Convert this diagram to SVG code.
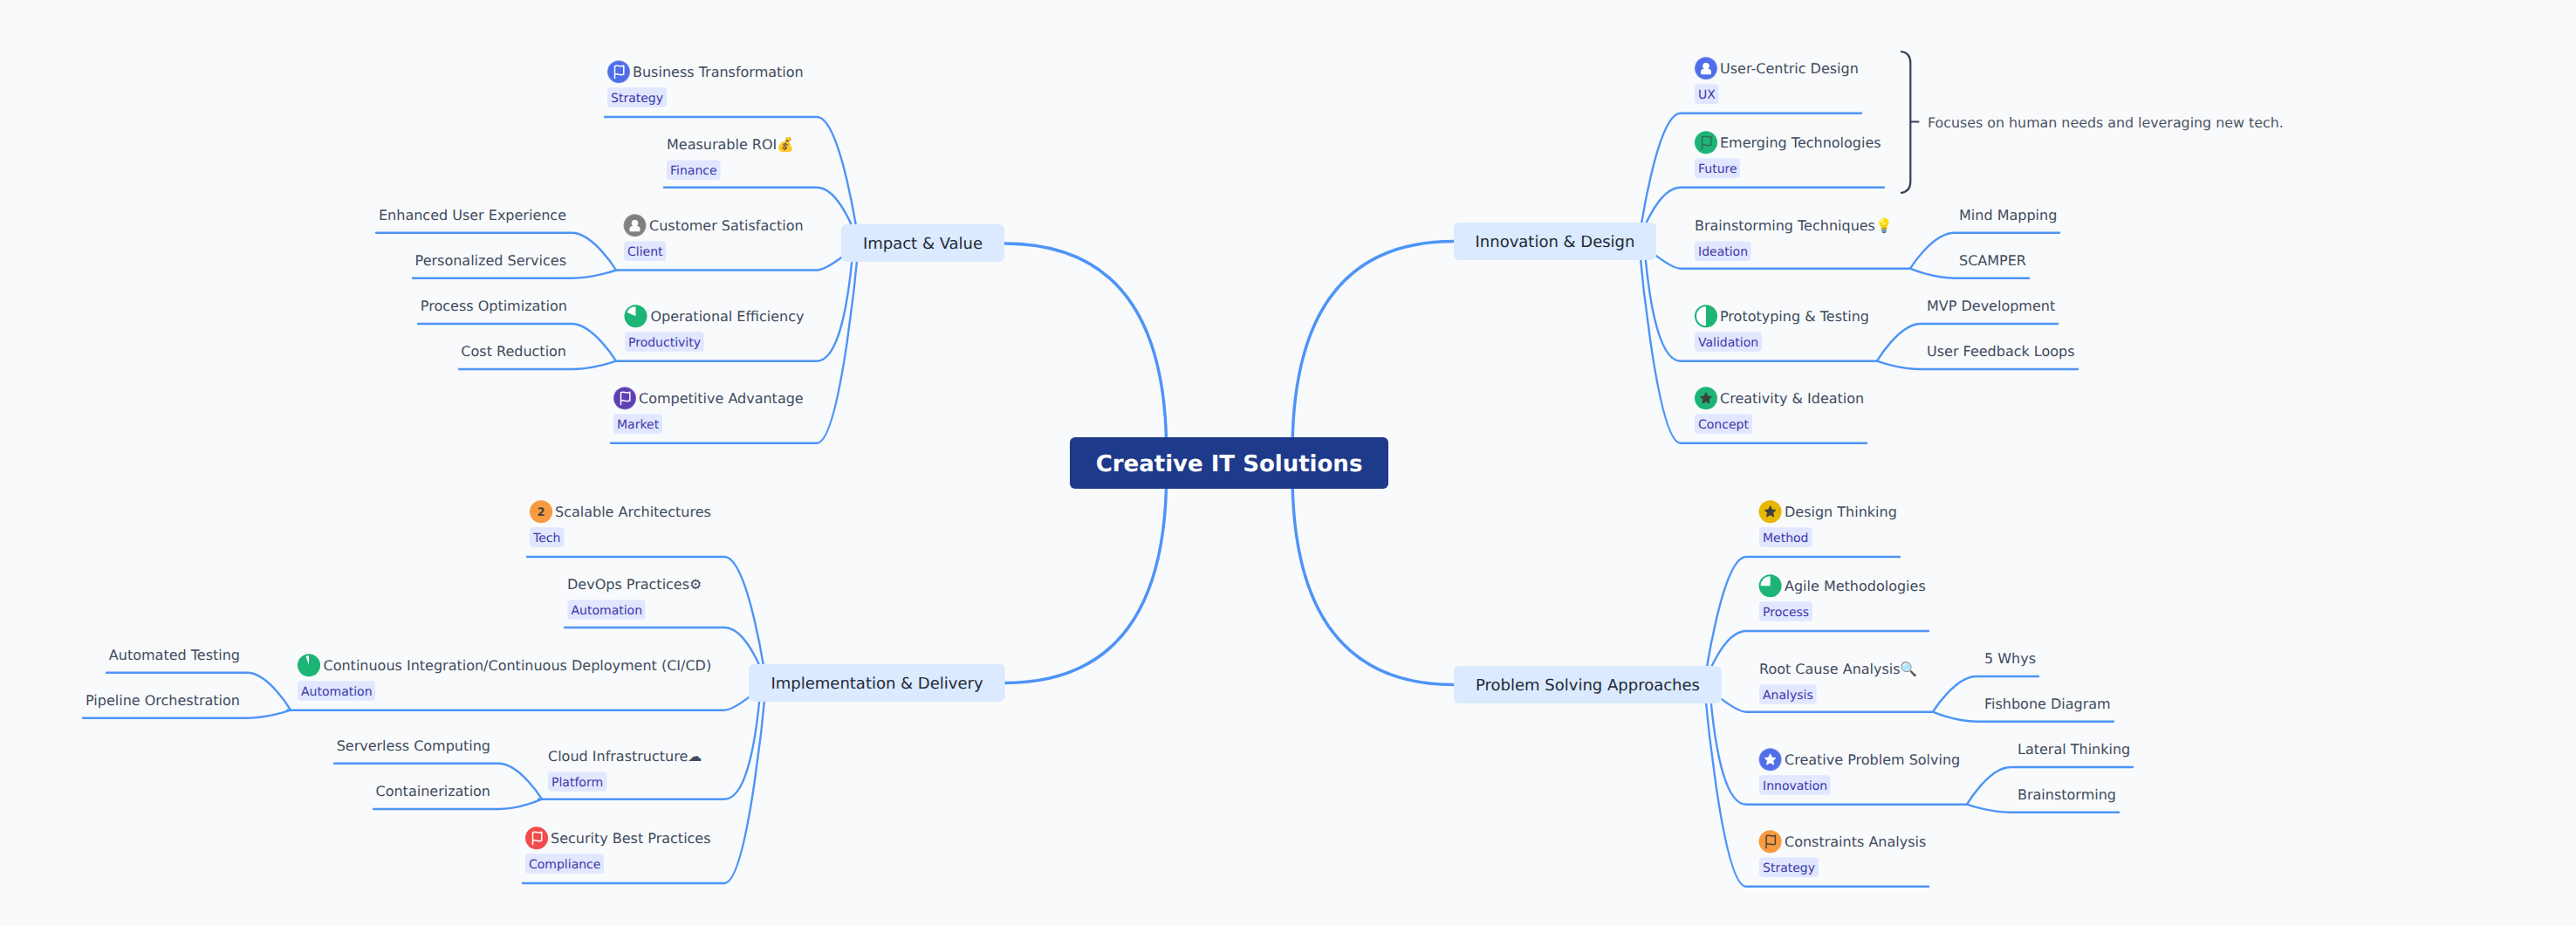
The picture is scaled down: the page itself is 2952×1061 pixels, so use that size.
<svg xmlns="http://www.w3.org/2000/svg" width="2952" height="1061" viewBox="0 0 2952 1061">
<style>
text{font-family:"DejaVu Sans","Noto Color Emoji",sans-serif;text-rendering:geometricPrecision}
.t{font-size:16px;fill:#404b5d}
.tag{font-size:14px;fill:#4038a8}
.tb{fill:#e0e7ff}
.b{font-size:18px;fill:#1f2937;text-anchor:middle}
.br{fill:#dbeafe}
.e{text-anchor:end}
.s{fill:none;stroke:#4d94f7;stroke-width:2.4;stroke-linecap:round}
.m{fill:none;stroke:#4d94f7;stroke-width:3.4}
.w{color:#fff;stroke:#fff}
.d{color:#3f3f3f;stroke:#3f3f3f}
.dg{color:#2d6e58;stroke:#2d6e58}
.do{color:#4a4238;stroke:#4a4238}
</style>
<defs>
<path id="flag" d="M-4.5 8V-6.5C-2-8.5 1.5-5 5.8-7V2.8C1.5 4.8-2 1.2-4.5 3" fill="none" stroke-width="1.5" stroke-linejoin="round"/>
<path id="star" d="M0-6.5L1.9-2.3 6.4-1.8 3.1 1.3 4 5.8 0 3.5-4 5.8-3.1 1.3-6.4-1.8-1.9-2.3Z" fill="currentColor" stroke="currentColor" stroke-width="1" stroke-linejoin="round"/>
<g id="person"><circle cx="0" cy="-2.6" r="3.4" fill="currentColor"/><path d="M-5.5 6.5V3.2C-5.5 1.6-3.5 1-2 1H2C3.5 1 5.5 1.6 5.5 3.2V6.5Z" fill="currentColor"/></g>
</defs>
<rect width="2952" height="1061" fill="#f9fafc"/>
<g id="connectors">
<path class="m" d="M1336.7 518Q1336.7 279 1151 279"/>
<path class="m" d="M1481 518Q1481 276.5 1666 276.5"/>
<path class="m" d="M1336.7 543Q1336.7 782.5 1151 782.5"/>
<path class="m" d="M1481 543Q1481 784.5 1666 784.5"/>
<path class="s" d="M984 279C984 279 964 134 936 134H693"/>
<path class="s" d="M984 279C984 279 964 214.7 936 214.7H761"/>
<path class="s" d="M984 279C984 279 950 309.5 936 309.5H706"/>
<path class="s" d="M978 279C974 330 964 413.7 936 413.7H706"/>
<path class="s" d="M984 279C984 279 964 507.7 936 507.7H700"/>
<path class="s" d="M706 309.5C706 309.5 680 266.7 655 266.7H431"/>
<path class="s" d="M706 309.5C706 309.5 680 318.7 655 318.7H473"/>
<path class="s" d="M706 413.7C706 413.7 680 371 655 371H479"/>
<path class="s" d="M706 413.7C706 413.7 680 423 655 423H526"/>
<path class="s" d="M1878 276.5C1878 276.5 1898 129.7 1926 129.7H2133"/>
<path class="s" d="M1878 276.5C1878 276.5 1898 214.7 1926 214.7H2159"/>
<path class="s" d="M1878 276.5C1878 276.5 1912 307.7 1926 307.7H2189"/>
<path class="s" d="M1884 276.5C1888 328 1898 413.7 1926 413.7H2151"/>
<path class="s" d="M1878 276.5C1878 276.5 1898 507.7 1926 507.7H2139"/>
<path class="s" d="M2189 307.7C2189 307.7 2214 266.7 2240 266.7H2360"/>
<path class="s" d="M2189 307.7C2189 307.7 2214 318.7 2240 318.7H2325"/>
<path class="s" d="M2151 413.7C2151 413.7 2176 371 2201 371H2358"/>
<path class="s" d="M2151 413.7C2151 413.7 2176 423 2201 423H2381"/>
<path class="s" d="M878 782.5C878 782.5 858 638 830 638H604"/>
<path class="s" d="M878 782.5C878 782.5 858 719 830 719H647"/>
<path class="s" d="M878 782.5C878 782.5 844 813.7 830 813.7H329"/>
<path class="s" d="M872 782.5C868 834 858 915.7 830 915.7H617"/>
<path class="s" d="M878 782.5C878 782.5 858 1012 830 1012H599"/>
<path class="s" d="M333 813.7C333 813.7 308 770.7 283 770.7H122"/>
<path class="s" d="M333 813.7C333 813.7 308 822.7 283 822.7H95"/>
<path class="s" d="M621 915.7C621 915.7 596 874.7 571 874.7H383"/>
<path class="s" d="M621 915.7C621 915.7 596 927 571 927H428"/>
<path class="s" d="M1953 784.5C1953 784.5 1973 638 2001 638H2177"/>
<path class="s" d="M1953 784.5C1953 784.5 1973 723 2001 723H2210"/>
<path class="s" d="M1953 784.5C1953 784.5 1987 815.7 2001 815.7H2215"/>
<path class="s" d="M1959 784.5C1963 836 1973 921.7 2001 921.7H2254"/>
<path class="s" d="M1953 784.5C1953 784.5 1973 1015.7 2001 1015.7H2210"/>
<path class="s" d="M2215 815.7C2215 815.7 2240 775 2265 775H2336"/>
<path class="s" d="M2215 815.7C2215 815.7 2240 826.7 2265 826.7H2422"/>
<path class="s" d="M2254 921.7C2254 921.7 2279 879 2304 879H2444"/>
<path class="s" d="M2254 921.7C2254 921.7 2279 930.7 2304 930.7H2428"/>
</g>
<g id="root"><rect x="1226" y="501" width="365" height="59" rx="6" fill="#1e3a8a"/><text x="1408.5" y="540" font-size="26" font-weight="700" fill="#fff" text-anchor="middle">Creative IT Solutions</text></g>

<g id="impact"><rect class="br" x="964" y="257" width="187" height="43" rx="6"/><text class="b" x="1057.5" y="285">Impact &amp; Value</text></g>
<g id="business"><circle cx="709" cy="82.3" r="13" fill="#7189ee"/><circle cx="709" cy="82.3" r="12" fill="#4f6ee8"/><use href="#flag" x="709" y="82.3" class="w"/><text class="t" x="725" y="88.3">Business Transformation</text><rect class="tb" x="696" y="100.3" width="68" height="22.4" rx="4"/><text class="tag" x="700" y="116.5">Strategy</text></g>
<g id="roi"><text class="t" x="764" y="171.3">Measurable ROI💰</text><rect class="tb" x="764" y="183.5" width="61.5" height="22.4" rx="4"/><text class="tag" x="768" y="199.7">Finance</text></g>
<g id="customer"><circle cx="727.5" cy="258.3" r="13" fill="#999"/><circle cx="727.5" cy="258.3" r="12" fill="#808080"/><use href="#person" x="727.5" y="258.3" class="w"/><text class="t" x="744" y="264.3">Customer Satisfaction</text><rect class="tb" x="715" y="276.5" width="48" height="22.4" rx="4"/><text class="tag" x="719" y="292.7">Client</text></g>
<g id="operational"><circle cx="728.5" cy="362.3" r="13" fill="#1cb575"/><path d="M728.5 362.3L728.5 351.3A11 11 0 0 0 718.5 357.7Z" fill="#fff"/><text class="t" x="745.4" y="368.3">Operational Efficiency</text><rect class="tb" x="716" y="380.3" width="90.6" height="22.4" rx="4"/><text class="tag" x="720" y="396.5">Productivity</text></g>
<g id="competitive"><circle cx="716" cy="456.3" r="13" fill="#7a62c4"/><circle cx="716" cy="456.3" r="12" fill="#5c3fb3"/><use href="#flag" x="716" y="456.3" class="w"/><text class="t" x="732" y="462.3">Competitive Advantage</text><rect class="tb" x="703" y="474.5" width="56" height="22.4" rx="4"/><text class="tag" x="707" y="490.7">Market</text></g>
<g id="enhanced"><text class="t e" x="649" y="252.3">Enhanced User Experience</text></g>
<g id="personalized"><text class="t e" x="649" y="304.3">Personalized Services</text></g>
<g id="process-opt"><text class="t e" x="650" y="356.3">Process Optimization</text></g>
<g id="cost"><text class="t e" x="649" y="408.3">Cost Reduction</text></g>

<g id="innovation"><rect class="br" x="1666" y="255" width="232" height="43" rx="6"/><text class="b" x="1782" y="283">Innovation &amp; Design</text></g>
<g id="user-centric"><circle cx="1955" cy="78.3" r="13" fill="#7189ee"/><circle cx="1955" cy="78.3" r="12" fill="#4f6ee8"/><use href="#person" x="1955" y="78.3" class="w"/><text class="t" x="1971" y="84.3">User-Centric Design</text><rect class="tb" x="1942" y="96.5" width="27.5" height="22.4" rx="4"/><text class="tag" x="1946" y="112.7">UX</text></g>
<g id="emerging"><circle cx="1955" cy="163.3" r="13" fill="#1cb575"/><use href="#flag" x="1955" y="163.3" class="dg"/><text class="t" x="1971" y="169.3">Emerging Technologies</text><rect class="tb" x="1942" y="181.5" width="52" height="22.4" rx="4"/><text class="tag" x="1946" y="197.7">Future</text></g>
<g id="brainstorming-tech"><text class="t" x="1942" y="264.3">Brainstorming Techniques💡</text><rect class="tb" x="1942" y="276.5" width="64.5" height="22.4" rx="4"/><text class="tag" x="1946" y="292.7">Ideation</text></g>
<g id="prototyping"><circle cx="1955" cy="362.3" r="13" fill="#1cb575"/><path d="M1955 351.3A11 11 0 0 0 1955 373.3Z" fill="#fff"/><text class="t" x="1971" y="368.3">Prototyping &amp; Testing</text><rect class="tb" x="1942" y="380.3" width="77" height="22.4" rx="4"/><text class="tag" x="1946" y="396.5">Validation</text></g>
<g id="creativity"><circle cx="1955" cy="456.3" r="13" fill="#1cb575"/><use href="#star" x="1955" y="456.3" class="d"/><text class="t" x="1971" y="462.3">Creativity &amp; Ideation</text><rect class="tb" x="1942" y="474.5" width="66" height="22.4" rx="4"/><text class="tag" x="1946" y="490.7">Concept</text></g>
<g id="mind-mapping"><text class="t" x="2245" y="252.3">Mind Mapping</text></g>
<g id="scamper"><text class="t" x="2245" y="304.3">SCAMPER</text></g>
<g id="mvp"><text class="t" x="2208" y="356.3">MVP Development</text></g>
<g id="feedback"><text class="t" x="2208" y="408.3">User Feedback Loops</text></g>
<g id="summary"><path d="M2178 59Q2189.3 60 2189.3 72V208Q2189.3 220 2178 221M2189.3 139.5H2199.3" fill="none" stroke="#334155" stroke-width="2.2"/><text x="2209" y="146" style="font-size:15.85px;fill:#4b5563">Focuses on human needs and leveraging new tech.</text></g>

<g id="implementation"><rect class="br" x="858" y="761" width="293.6" height="43" rx="6"/><text class="b" x="1005" y="789">Implementation &amp; Delivery</text></g>
<g id="scalable"><circle cx="620" cy="586.3" r="13" fill="#f89a3e"/><text x="620" y="591" font-size="13" font-weight="700" fill="#3f3f3f" text-anchor="middle">2</text><text class="t" x="636" y="592.3">Scalable Architectures</text><rect class="tb" x="607" y="604.3" width="39.3" height="22.4" rx="4"/><text class="tag" x="611" y="620.5">Tech</text></g>
<g id="devops"><text class="t" x="650" y="675.3">DevOps Practices⚙</text><rect class="tb" x="650.5" y="687.3" width="89" height="22.4" rx="4"/><text class="tag" x="654.5" y="703.5">Automation</text></g>
<g id="cicd"><circle cx="354" cy="762.3" r="13" fill="#1cb575"/><path d="M354 762.3L354 751.3A11 11 0 0 0 350.5 751.9Z" fill="#fff"/><text class="t" x="370.5" y="768.3">Continuous Integration/Continuous Deployment (CI/CD)</text><rect class="tb" x="341" y="780.3" width="89" height="22.4" rx="4"/><text class="tag" x="345" y="796.5">Automation</text></g>
<g id="cloud"><text class="t" x="628" y="872.3">Cloud Infrastructure☁</text><rect class="tb" x="628" y="884.3" width="67.4" height="22.4" rx="4"/><text class="tag" x="632" y="900.5">Platform</text></g>
<g id="security"><circle cx="615" cy="960.3" r="13" fill="#f24b4b"/><use href="#flag" x="615" y="960.3" class="w"/><text class="t" x="631" y="966.3">Security Best Practices</text><rect class="tb" x="602" y="978.3" width="90" height="22.4" rx="4"/><text class="tag" x="606" y="994.5">Compliance</text></g>
<g id="auto-testing"><text class="t e" x="275" y="756.3">Automated Testing</text></g>
<g id="pipeline"><text class="t e" x="275" y="808.3">Pipeline Orchestration</text></g>
<g id="serverless"><text class="t e" x="562" y="860.3">Serverless Computing</text></g>
<g id="container"><text class="t e" x="562" y="912.3">Containerization</text></g>

<g id="problem"><rect class="br" x="1666" y="763" width="307" height="43" rx="6"/><text class="b" x="1819.5" y="791">Problem Solving Approaches</text></g>
<g id="design-thinking"><circle cx="2028.6" cy="586.3" r="13" fill="#e8b800"/><use href="#star" x="2028.6" y="586.3" class="d"/><text class="t" x="2045" y="592.3">Design Thinking</text><rect class="tb" x="2016" y="604.3" width="60.5" height="22.4" rx="4"/><text class="tag" x="2020" y="620.5">Method</text></g>
<g id="agile"><circle cx="2028.6" cy="671.3" r="13" fill="#1cb575"/><path d="M2028.6 671.3V660.3A11 11 0 0 0 2017.6 671.3Z" fill="#fff"/><text class="t" x="2045" y="677.3">Agile Methodologies</text><rect class="tb" x="2016" y="689.3" width="61" height="22.4" rx="4"/><text class="tag" x="2020" y="705.5">Process</text></g>
<g id="root-cause"><text class="t" x="2016" y="772.3">Root Cause Analysis🔍</text><rect class="tb" x="2016" y="784.3" width="65.5" height="22.4" rx="4"/><text class="tag" x="2020" y="800.5">Analysis</text></g>
<g id="creative-ps"><circle cx="2028.6" cy="870.3" r="13" fill="#7189ee"/><circle cx="2028.6" cy="870.3" r="12" fill="#4f6ee8"/><use href="#star" x="2028.6" y="870.3" class="w"/><text class="t" x="2045" y="876.3">Creative Problem Solving</text><rect class="tb" x="2016" y="888.3" width="81.7" height="22.4" rx="4"/><text class="tag" x="2020" y="904.5">Innovation</text></g>
<g id="constraints"><circle cx="2028.6" cy="964.3" r="13" fill="#f89a3e"/><use href="#flag" x="2028.6" y="964.3" class="do"/><text class="t" x="2045" y="970.3">Constraints Analysis</text><rect class="tb" x="2016" y="982.5" width="68" height="22.4" rx="4"/><text class="tag" x="2020" y="998.7">Strategy</text></g>
<g id="whys"><text class="t" x="2274" y="760.3">5 Whys</text></g>
<g id="fishbone"><text class="t" x="2274" y="812.3">Fishbone Diagram</text></g>
<g id="lateral"><text class="t" x="2312" y="864.3">Lateral Thinking</text></g>
<g id="brainstorming"><text class="t" x="2312" y="916.3">Brainstorming</text></g>
</svg>
